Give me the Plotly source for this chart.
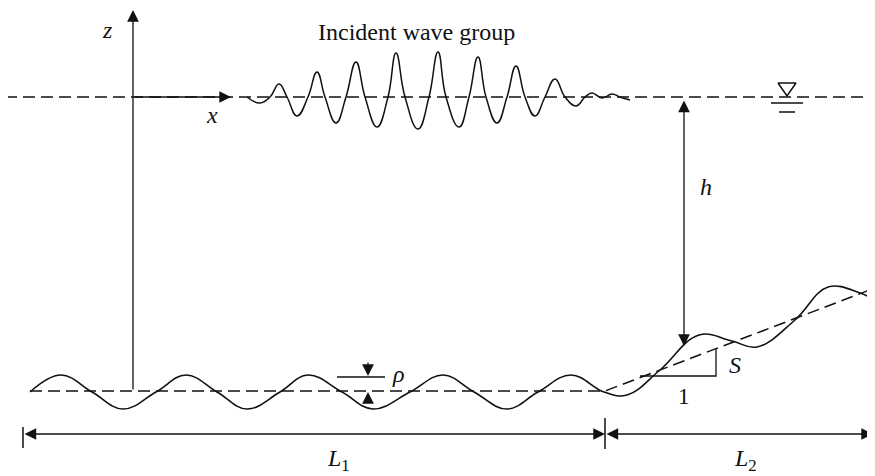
import plotly.graph_objects as go

W, H = 875, 476          # page size; the page body adds an 8px margin
PAD = 8
INK = "#111111"
SERIF = "Liberation Serif"

# ---- geometry (pixel coordinates, y downwards) ----
swl_x = [5, 870]
swl_y = [97, 97]

group_x = [247, 260, 270, 279, 287, 297, 308, 317, 325, 336, 346, 356, 365, 377,
           388, 396, 405, 418, 429, 438, 446, 459, 469, 478, 486, 497, 507, 516,
           525, 535, 545, 555, 565, 576, 585, 592, 602, 612, 620, 630]
group_y = [97, 103, 97, 84, 97, 116, 97, 72, 97, 123, 97, 62, 97, 127,
           97, 53, 97, 129, 97, 52, 97, 127, 97, 57, 97, 123, 97, 66,
           97, 116, 97, 79, 97, 106, 97, 93, 98, 94, 97, 100]

bed_x = [30, 61, 92, 123, 156, 186, 217, 247, 280, 308, 342, 373, 410, 443,
         474, 507, 538, 571, 604, 627, 660, 699, 732, 757, 795, 828, 860, 875]
bed_y = [392, 375, 392, 409, 392, 375, 392, 409, 392, 375, 392, 409, 392, 375,
         392, 409, 392, 375, 392, 395, 370, 335, 341, 347, 320, 287, 293, 300]

meanbed_x = [30, 605, 875]
meanbed_y = [391, 391, 288]

slope_tri_x = [640, 716, 716]
slope_tri_y = [376, 376, 348]

rho_bar_x = [337, 385]
rho_bar_y = [377, 377]

swl_sym_x = [778, 796, 787, 778, None, 771, 803, None, 779, 795]
swl_sym_y = [83, 83, 96, 83, None, 103, 103, None, 112, 112]

tick_x = [23, 23, None, 605, 605, None, 873, 873]
tick_y = [427, 448, None, 418, 449, None, 418, 449]

fig = go.Figure()

def line(x, y, dash="solid", shape="linear", width=1.6, smoothing=1.0):
    fig.add_trace(go.Scatter(x=x, y=y, mode="lines", hoverinfo="skip",
                             line=dict(color=INK, width=width, dash=dash, shape=shape,
                                       smoothing=smoothing),
                             showlegend=False))

line(swl_x, swl_y, dash="12px,6px", width=1.5)
line(meanbed_x, meanbed_y, dash="12px,6px", width=1.5)
line(group_x, group_y, shape="spline", width=1.5, smoothing=1.3)
line(bed_x, bed_y, shape="spline", width=1.6, smoothing=1.15)
line(slope_tri_x, slope_tri_y, width=1.3)
line(rho_bar_x, rho_bar_y, width=1.3)
line(swl_sym_x, swl_sym_y, width=1.5)
line(tick_x, tick_y, width=1.5)

# ---- arrows: (tail_x, tail_y, tip_x, tip_y, both_ends) ----
arrows = [
    (133, 391, 133, 10, False),   # z axis
    (133, 97, 231, 97, False),    # x axis
    (684, 99, 684, 346, True),    # h
    (23, 434, 605, 434, True),    # L1
    (605, 434, 873, 434, True),   # L2
    (368, 361, 368, 376, False),  # rho upper
    (368, 404, 368, 392, False),  # rho lower
]
for tx, ty, hx, hy, both in arrows:
    fig.add_annotation(x=hx, y=hy, ax=tx, ay=ty, xref="x", yref="y",
                       axref="x", ayref="y", text="", showarrow=True,
                       arrowhead=2, startarrowhead=2, arrowsize=1.8,
                       startarrowsize=1.8, arrowwidth=1.3, arrowcolor=INK,
                       arrowside="end+start" if both else "end",
                       standoff=0, startstandoff=0)

# ---- labels ----
labels = [
    ("Incident wave group", 416, 32, 24),
    ("<i>z</i>", 107, 30, 24),
    ("<i>x</i>", 212, 115, 24),
    ("<i>h</i>", 706, 187, 24),
    ("<i>ρ</i>", 398, 374, 24),
    ("<i>S</i>", 735, 365, 24),
    ("1", 684, 396, 23),
    ("<i>L</i><sub>1</sub>", 338, 460, 24),
    ("<i>L</i><sub>2</sub>", 745, 460, 24),
]
for txt, lx, ly, sz in labels:
    fig.add_annotation(x=lx, y=ly, xref="x", yref="y", text=txt, showarrow=False,
                       font=dict(family=SERIF, size=sz, color=INK),
                       xanchor="center", yanchor="middle")

fig.update_layout(
    width=W - PAD, height=H - PAD, margin=dict(l=0, r=0, t=0, b=0),
    paper_bgcolor="white", plot_bgcolor="white",
    xaxis=dict(range=[PAD, W], visible=False, fixedrange=True),
    yaxis=dict(range=[H, PAD], visible=False, fixedrange=True),
    showlegend=False,
)

fig.write_html("out.html")
